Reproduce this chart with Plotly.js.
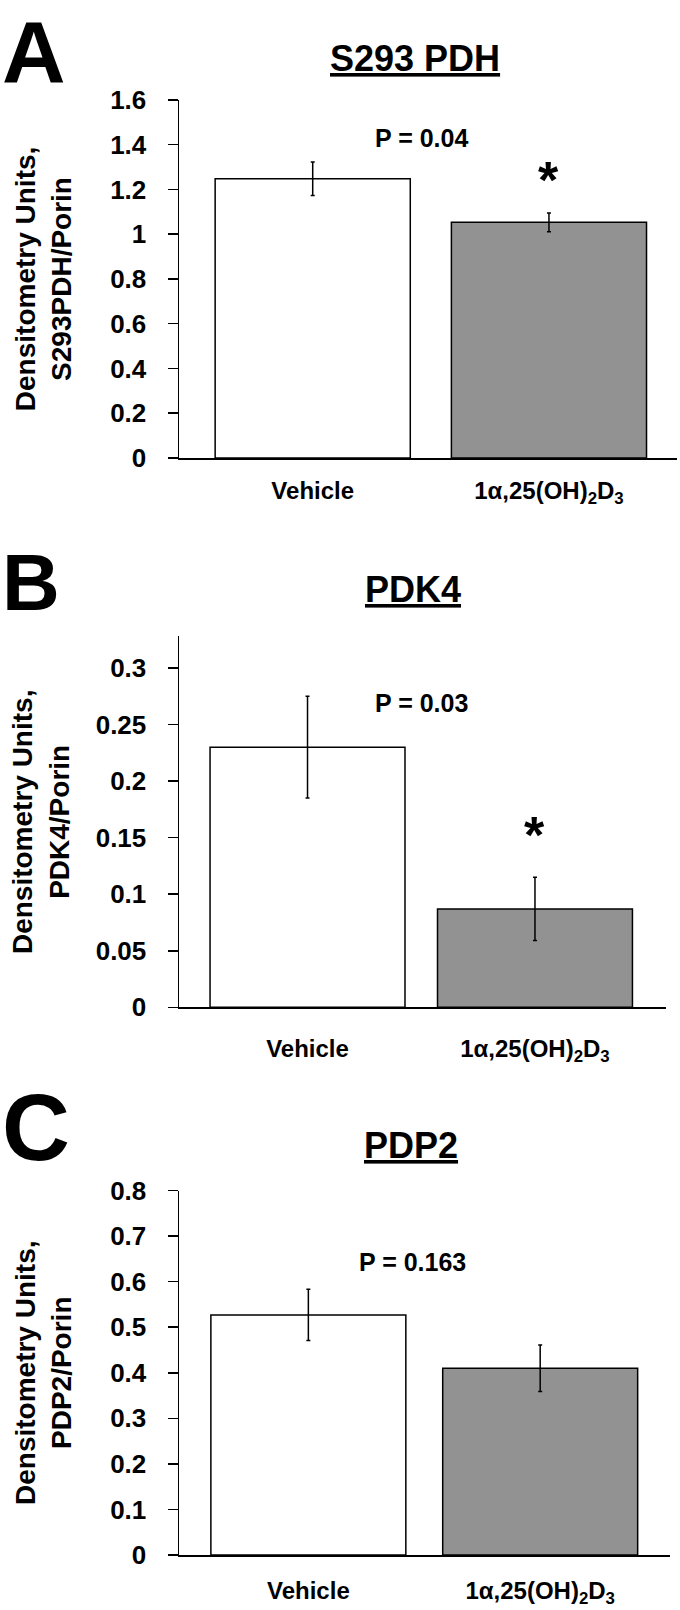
<!DOCTYPE html>
<html>
<head>
<meta charset="utf-8">
<script src="https://cdn.plot.ly/plotly-3.0.1.min.js"></script>
<style>
  html, body { margin: 0; padding: 0; background: #fff; }
  #chart { width: 680px; height: 1610px; }
</style>
</head>
<body>
<div id="chart"></div>
<script>
// data
const groups = ['Vehicle', '1α,25(OH)<sub>2</sub>D<sub>3</sub>'];
const barColors = ['#ffffff', '#929292'];

const pdhMean = [1.248, 1.053];
const pdhErr = [0.075, 0.042];
const pdk4Mean = [0.230, 0.087];
const pdk4Err = [0.045, 0.028];
const pdp2Mean = [0.527, 0.410];
const pdp2Err = [0.056, 0.051];

const panelLetters = ['A', 'B', 'C'];
const panelTitles = ['S293 PDH', 'PDK4', 'PDP2'];
const yTitles = ['Densitometry Units,<br>S293PDH/Porin', 'Densitometry Units,<br>PDK4/Porin', 'Densitometry Units,<br>PDP2/Porin'];
const pLabels = ['P = 0.04', 'P = 0.03', 'P = 0.163'];
const pLabelY = [1.43, 0.269, 0.644];
const starY = [1.242, 0.152, null];

const W = 680, H = 1610;
const BOLD = 'Liberation Sans, Arial, sans-serif';

// layout per panel, in pixels of the page
const panels = [
  { mean: pdhMean, err: pdhErr, px: [179, 677], py: [99.9, 458.0], xr: [-0.566, 1.542], bw: 0.826, yr: [0, 1.6], dtick: 0.2,
    pX: 0.46, starX: 1.0, titleX: 415, titleY: 58, letterY: 0, letterAnchor: 'top', letterSize: 88, standoff: 30, xStandoff: 11 },
  { mean: pdk4Mean, err: pdk4Err, px: [179, 666], py: [636.4, 1007.3], xr: [-0.565, 1.576], bw: 0.857, yr: [0, 0.328], dtick: 0.05,
    pX: 0.50, starX: 1.0, titleX: 413, titleY: 589, letterY: 582, letterAnchor: 'middle', letterSize: 80, standoff: 18, xStandoff: 19 },
  { mean: pdp2Mean, err: pdp2Err, px: [179, 670], py: [1190.5, 1555], xr: [-0.558, 1.56], bw: 0.841, yr: [0, 0.8], dtick: 0.1,
    pX: 0.45, starX: null, titleX: 411, titleY: 1145, letterY: 1127, letterAnchor: 'middle', letterSize: 94, standoff: 30, xStandoff: 14 }
];

const traces = [];
const layout = {
  width: W, height: H,
  margin: { l: 0, r: 0, t: 0, b: 0 },
  paper_bgcolor: '#ffffff',
  plot_bgcolor: '#ffffff',
  showlegend: false,
  annotations: []
};

panels.forEach((p, i) => {
  const n = i === 0 ? '' : String(i + 1);
  traces.push({
    type: 'bar',
    x: groups,
    y: p.mean,
    width: p.bw,
    xaxis: 'x' + n,
    yaxis: 'y' + n,
    marker: { color: barColors, line: { color: '#000000', width: 1.5 } },
    error_y: { type: 'data', array: p.err, visible: true, color: '#000000', thickness: 1.5, width: 2 },
    hoverinfo: 'skip'
  });

  layout['xaxis' + n] = {
    domain: [p.px[0] / W, p.px[1] / W],
    anchor: 'y' + n,
    type: 'category',
    range: p.xr,
    showline: true, linecolor: '#000000', linewidth: 1.5,
    ticks: '', showgrid: false, zeroline: false,
    tickfont: { family: BOLD, size: 24, color: '#000000', weight: 'bold' },
    ticklabelstandoff: p.xStandoff,
    fixedrange: true
  };
  layout['yaxis' + n] = {
    domain: [1 - p.py[1] / H, 1 - p.py[0] / H],
    anchor: 'x' + n,
    range: p.yr,
    dtick: p.dtick,
    tick0: 0,
    showline: true, linecolor: '#000000', linewidth: 1.5,
    ticks: 'outside', ticklen: 10, tickwidth: 1.5, tickcolor: '#000000',
    showgrid: false, zeroline: false,
    tickfont: { family: BOLD, size: 26, color: '#000000', weight: 'bold' },
    ticklabelstandoff: 16,
    title: { text: yTitles[i], standoff: p.standoff, font: { family: BOLD, size: 28, color: '#000000', weight: 'bold' } },
    fixedrange: true
  };

  layout.annotations.push({
    xref: 'paper', yref: 'paper', x: 0, y: 1 - p.letterY / H,
    xanchor: 'left', yanchor: p.letterAnchor, showarrow: false,
    text: panelLetters[i],
    font: { family: BOLD, size: p.letterSize, color: '#000000', weight: 'bold' }
  });
  layout.annotations.push({
    xref: 'paper', yref: 'paper', x: p.titleX / W, y: 1 - p.titleY / H,
    xanchor: 'center', yanchor: 'middle', showarrow: false,
    text: panelTitles[i],
    font: { family: BOLD, size: 36, color: '#000000', weight: 'bold', lineposition: 'under' }
  });
  layout.annotations.push({
    xref: 'x' + n, yref: 'y' + n, x: p.pX, y: pLabelY[i],
    xanchor: 'center', yanchor: 'middle', showarrow: false,
    text: pLabels[i],
    font: { family: BOLD, size: 25, color: '#000000', weight: 'bold' }
  });
  if (starY[i] !== null) {
    layout.annotations.push({
      xref: 'x' + n, yref: 'y' + n, x: p.starX, y: starY[i],
      xanchor: 'center', yanchor: 'middle', showarrow: false,
      text: '*',
      font: { family: BOLD, size: 52, color: '#000000', weight: 'bold' }
    });
  }
});

Plotly.newPlot('chart', traces, layout, { staticPlot: true, displayModeBar: false });
</script>
</body>
</html>
